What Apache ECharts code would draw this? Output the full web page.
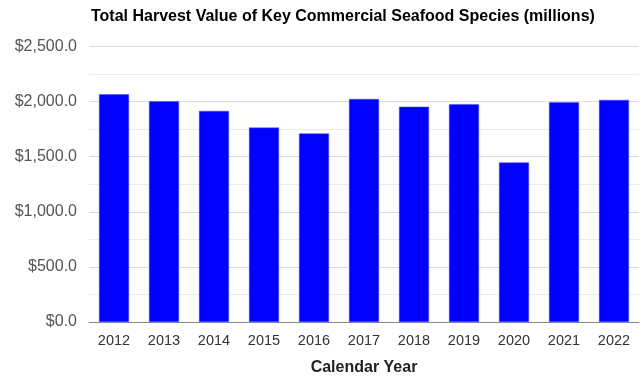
<!DOCTYPE html>
<html><head><meta charset="utf-8">
<script src="https://cdn.jsdelivr.net/npm/echarts@6/dist/echarts.min.js"></script>
<style>html,body{margin:0;padding:0;background:#fff}#c{width:642px;height:381px}</style>
</head><body><div id="c"></div>
<script>
const years = ['2012','2013','2014','2015','2016','2017','2018','2019','2020','2021','2022'];
const harvestValue = [2066, 2004, 1915, 1764, 1711, 2024, 1953, 1977, 1448, 1995, 2015];
const titleText = 'Total Harvest Value of Key Commercial Seafood Species (millions)';
const xAxisName = 'Calendar Year';

const chart = echarts.init(document.getElementById('c'), null, {renderer: 'canvas'});
chart.setOption({
  animation: false,
  backgroundColor: '#fff',
  title: {
    text: titleText, left: 86, top: 4,
    textStyle: {fontFamily: 'Liberation Sans, Arial', fontSize: 16, fontWeight: 'bold', color: '#000'}
  },
  grid: {left: 89, right: 3, top: 46.5, bottom: 52.5, containLabel: false},
  xAxis: {
    type: 'category', data: years,
    name: xAxisName, nameLocation: 'middle', nameGap: 38,
    nameTextStyle: {fontFamily: 'Liberation Sans, Arial', fontSize: 16, fontWeight: 'bold', color: '#222'},
    axisLine: {lineStyle: {color: '#888', width: 1}},
    axisTick: {show: false},
    axisLabel: {fontFamily: 'Liberation Sans, Arial', fontSize: 14.5, color: '#333', margin: 11}
  },
  yAxis: {
    type: 'value', min: 0, max: 2500, interval: 500,
    axisLine: {show: false}, axisTick: {show: false},
    axisLabel: {
      fontFamily: 'Liberation Sans, Arial', fontSize: 16, color: '#555', margin: 12,
      formatter: v => '$' + v.toLocaleString('en-US', {minimumFractionDigits: 1, maximumFractionDigits: 1})
    },
    splitLine: {lineStyle: {color: '#dcdcdc', width: 1}},
    minorTick: {show: false, splitNumber: 2},
    minorSplitLine: {show: true, lineStyle: {color: '#ececec', width: 1}}
  },
  series: [{
    type: 'bar', data: harvestValue, barWidth: '60%',
    itemStyle: {color: '#0000ff', borderColor: '#4d4dff', borderWidth: 0.5}
  }]
});
</script></body></html>
